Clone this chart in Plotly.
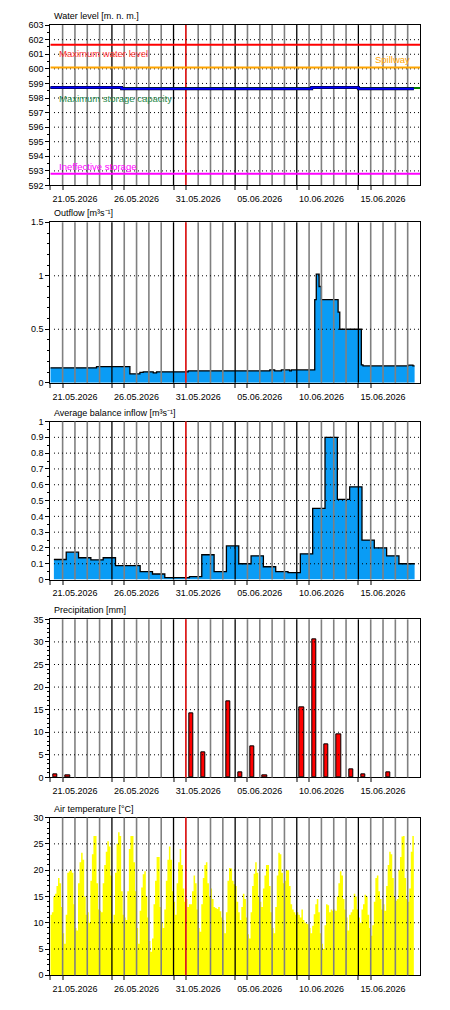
import pandas as pd
import plotly.graph_objects as go

FONT = "Liberation Sans, Arial, sans-serif"
X_START = "2026-05-19 00:00"
X_END = "2026-06-18 00:00"

# reservoir reference levels [m. n. m.]
max_water_level = 601.65
spillway_level = 600.1
max_storage_level = 598.68
ineffective_level = 592.8

# water level (step series)
level_times = ["2026-05-19 00:00", "2026-05-24 19:00", "2026-06-09 05:00",
               "2026-06-13 00:00", "2026-06-17 12:00"]
level_values = [598.72, 598.64, 598.72, 598.64, 598.64]

# outflow [m3/s] (step series)
outflow_times = ["2026-05-19 00:00", "2026-05-22 18:00", "2026-05-25 11:00", "2026-05-26 06:30",
                 "2026-05-26 13:00", "2026-05-27 08:30", "2026-05-27 15:00", "2026-05-30 04:30",
                 "2026-06-05 19:30", "2026-06-06 05:00", "2026-06-06 18:00", "2026-06-07 10:00",
                 "2026-06-07 13:30", "2026-06-09 11:00", "2026-06-09 14:00", "2026-06-09 19:30",
                 "2026-06-10 00:00", "2026-06-11 08:30", "2026-06-11 11:45", "2026-06-13 05:45",
                 "2026-06-13 09:00", "2026-06-17 00:45", "2026-06-17 10:15", "2026-06-17 13:30"]
outflow_values = [0.139, 0.151, 0.083, 0.096, 0.102, 0.093, 0.102, 0.111,
                  0.120, 0.111, 0.120, 0.111, 0.120, 0.778, 1.015, 0.90,
                  0.778, 0.66, 0.50, 0.167, 0.157, 0.165, 0.157, 0.157]

# average balance inflow [m3/s], daily 07:00 - 07:00
inflow_values = [0.127, 0.173, 0.138, 0.125, 0.138, 0.088, 0.088, 0.05, 0.035, 0.0125,
                 0.0125, 0.019, 0.157, 0.05, 0.213, 0.10, 0.15, 0.081, 0.05, 0.044,
                 0.163, 0.45, 0.90, 0.507, 0.587, 0.25, 0.20, 0.15, 0.10]
inflow_first = "2026-05-19 07:00"
inflow_end = "2026-06-17 13:30"

# precipitation [mm]
precip_days = ["2026-05-19 10:00", "2026-05-20 10:00", "2026-05-30 10:00", "2026-05-31 10:00",
               "2026-06-02 10:00", "2026-06-03 10:00", "2026-06-04 10:00", "2026-06-05 10:00",
               "2026-06-08 10:00", "2026-06-09 10:00", "2026-06-10 10:00", "2026-06-11 10:00",
               "2026-06-12 10:00", "2026-06-13 10:00", "2026-06-15 10:00"]
precip_mm = [0.6, 0.4, 14.2, 5.5, 16.9, 1.1, 6.8, 0.4, 15.5, 30.6, 7.4, 9.6, 1.75, 0.65, 1.1]

# air temperature [deg C], 3-hourly
temp_values = [
    11.5, 12, 15, 15.5, 17, 18.5, 17.5, 13,
    8, 6, 11.5, 19.5, 19.8, 20, 19.5, 13.5,
    9, 8.5, 17.5, 21.5, 23.3, 22, 15, 11.5,
    12, 10, 18, 23, 26.5, 26.5, 17.5, 12.5,
    12.3, 12, 17.5, 21, 23.5, 25.5, 24.5, 19,
    10, 11.5, 19.5, 25, 27.2, 26.5, 16, 11.5,
    11, 10.5, 16, 24, 26.5, 26.5, 21.5, 16,
    9, 6, 12.3, 16.7, 19.2, 19.8, 15, 11,
    6.5, 4.5, 7, 13.5, 18, 22.5, 22.5, 13,
    10, 9, 12.5, 18, 22, 24.5, 22, 16,
    14, 11.5, 17.5, 21.5, 24, 21, 16.5, 14,
    14.5, 13, 13.5, 13.5, 16, 19, 17.5, 12.5,
    9, 8.3, 13.5, 18.5, 21, 21.5, 17.5, 15,
    16.5, 14.5, 13, 12.8, 12.6, 13, 12.2, 11,
    10.5, 8, 12, 18, 20.4, 20.3, 18, 17.3,
    17, 14, 12, 10.5, 13, 15.5, 14.5, 11,
    7.8, 7, 12, 17, 19.3, 21.5, 19.5, 15,
    14, 13, 16.5, 19, 21, 21, 17, 12,
    9, 8, 13, 19, 23.3, 23, 19.5, 17.5,
    18, 20, 20, 17, 13.5, 12.5, 12, 11.5,
    12, 11.5, 11, 12.5, 10.5, 10, 9.8, 9.7,
    9, 8, 9.4, 11.6, 13.5, 14.5, 12, 8,
    6, 5, 9.5, 13.5, 13.3, 12, 12.5, 12.3,
    12.5, 12.3, 15, 17.5, 19.8, 19, 14.5, 12.5,
    11, 8.5, 11.5, 12, 12.5, 15.5, 15, 12.5,
    11, 10, 12.5, 13.5, 15.3, 15, 11.5, 9,
    7.5, 9.5, 14, 18.5, 19, 16, 14.5, 12.5,
    13.5, 12.3, 17, 21, 23.5, 23, 18.5, 15,
    14.2, 14.5, 20, 22.5, 26.4, 26.5, 18.5, 14.5,
    14, 16.5, 23.5, 26.5,
]

# time axis markers
label_days = pd.date_range("2026-05-21", periods=6, freq="5D")
black_days = pd.date_range("2026-05-24", periods=5, freq="5D")
gray_days = [d for d in pd.date_range("2026-05-20", "2026-06-17", freq="D") if d not in black_days]
bracket_days = sorted(list(pd.date_range("2026-05-19", periods=6, freq="5D"))
                      + list(pd.date_range("2026-05-20", periods=6, freq="5D")))
now_line = pd.Timestamp("2026-05-30 00:00")

W, H = 450, 1010
X_DOMAIN = [50.3 / W, 420 / W]

# panel: (top px, bottom px, title, y range, label ticks, minor dtick, dotted grid values)
panels = [
    (20.3, 182.3, "Water level [m. n. m.]", [592, 603], list(range(592, 604)), 0.5,
     list(range(593, 603))),
    (219.5, 381.5, "Outflow [m³s⁻¹]", [0, 1.5], [0, 0.5, 1, 1.5], 0.1, [0.5, 1.0]),
    (420.7, 580.3, "Average balance inflow [m³s⁻¹]", [0, 1.0],
     [round(i * 0.1, 1) for i in range(11)], 0.05, [round(i * 0.1, 1) for i in range(1, 10)]),
    (620.5, 780.1, "Precipitation [mm]", [0, 35], list(range(0, 36, 5)), 1, list(range(5, 35, 5))),
    (820.7, 980.0, "Air temperature [°C]", [0, 30], list(range(0, 31, 5)), 1, list(range(5, 30, 5))),
]


def py(px):
    return 1 - px / H


fig = go.Figure()

# --- panel 1: water level ---
for val, color in [(max_water_level, "#ff0000"), (spillway_level, "#ffa500"),
                   (max_storage_level, "#008000"), (ineffective_level, "#ff00ff")]:
    fig.add_trace(go.Scatter(x=[X_START, X_END], y=[val, val], mode="lines",
                             line=dict(color=color, width=2), xaxis="x", yaxis="y",
                             showlegend=False, hoverinfo="skip"))
fig.add_trace(go.Scatter(x=level_times, y=level_values, mode="lines", line_shape="hv",
                         line=dict(color="black", width=3), xaxis="x", yaxis="y",
                         showlegend=False))
fig.add_trace(go.Scatter(x=level_times, y=level_values, mode="lines", line_shape="hv",
                         line=dict(color="#0000ff", width=2), xaxis="x", yaxis="y",
                         showlegend=False))

# --- panel 2: outflow ---
fig.add_trace(go.Scatter(x=outflow_times, y=outflow_values, mode="lines", line_shape="hv",
                         fill="tozeroy", fillcolor="#0a9cf5",
                         line=dict(color="black", width=1.3), xaxis="x2", yaxis="y2",
                         showlegend=False))

# --- panel 3: balance inflow ---
inflow_times = list(pd.date_range(inflow_first, periods=len(inflow_values), freq="D")) + [pd.Timestamp(inflow_end)]
fig.add_trace(go.Scatter(x=inflow_times, y=inflow_values + [inflow_values[-1]], mode="lines",
                         line_shape="hv", fill="tozeroy", fillcolor="#0a9cf5",
                         line=dict(color="black", width=1.3), xaxis="x3", yaxis="y3",
                         showlegend=False))

# --- panel 4: precipitation ---
fig.add_trace(go.Bar(x=precip_days, y=precip_mm, width=0.35 * 86400000,
                     marker=dict(color="#ff0000", line=dict(color="black", width=1)),
                     xaxis="x4", yaxis="y4", showlegend=False))

# --- panel 5: air temperature ---
temp_times = list(pd.date_range(X_START, periods=len(temp_values), freq="3h"))
temp_times.append(temp_times[-1] + pd.Timedelta(hours=3))
fig.add_trace(go.Scatter(x=temp_times, y=temp_values + [temp_values[-1]], mode="lines",
                         line_shape="hv", fill="tozeroy", fillcolor="#ffff00",
                         line=dict(color="#ffff00", width=0), xaxis="x5", yaxis="y5",
                         showlegend=False))

shapes = []
annotations = []
layout = {}
for i, (top, bottom, title, yrange, yticks, minor, dotted) in enumerate(panels, start=1):
    sfx = "" if i == 1 else str(i)
    layer = "below" if i == 1 else "above"
    layout["xaxis" + sfx] = dict(
        domain=X_DOMAIN, anchor="y" + sfx, type="date", range=[X_START, X_END],
        tickvals=list(label_days), ticktext=[d.strftime("%d.%m.%Y") for d in label_days],
        ticks="", ticklabelstandoff=5,
        minor=dict(tickmode="array", tickvals=bracket_days, ticks="outside", ticklen=4,
                   tickcolor="#808080", tickwidth=1.5),
        showline=True, linecolor="black", linewidth=1, mirror=True,
        showgrid=False, zeroline=False, tickfont=dict(size=9, color="black", family=FONT),
    )
    layout["yaxis" + sfx] = dict(
        domain=[py(bottom), py(top)], anchor="x" + sfx, range=yrange,
        tickvals=yticks, ticktext=[f"{v:g}" for v in yticks],
        ticks="outside", ticklen=4, tickcolor="black",
        minor=dict(dtick=minor, ticks="outside", ticklen=2, tickcolor="black"),
        showline=True, linecolor="black", linewidth=1, mirror=True,
        showgrid=False, zeroline=False, tickfont=dict(size=9, color="black", family=FONT),
    )
    xr, yr = "x" + sfx, "y" + sfx
    for d in gray_days:
        shapes.append(dict(type="line", xref=xr, yref=yr + " domain", x0=d, x1=d, y0=0, y1=1,
                           line=dict(color="#808080", width=1.6), layer=layer))
    for d in black_days:
        shapes.append(dict(type="line", xref=xr, yref=yr + " domain", x0=d, x1=d, y0=0, y1=1,
                           line=dict(color="black", width=1.3), layer=layer))
    shapes.append(dict(type="line", xref=xr, yref=yr + " domain", x0=now_line, x1=now_line,
                       y0=0, y1=1, line=dict(color="#ff0000", width=1.3), layer=layer))
    for v in dotted:
        shapes.append(dict(type="line", xref=xr + " domain", yref=yr, x0=0.01, x1=1, y0=v, y1=v,
                           line=dict(color="black", width=1, dash="1px,3px"), layer=layer))
    annotations.append(dict(text=title, xref="paper", yref="paper", x=52 / W,
                            y=py(top - 9), xanchor="left", yanchor="middle", showarrow=False,
                            font=dict(size=9, color="black", family=FONT)))

# level labels in panel 1
for text, val, color, xpos, xanchor, yanchor, yshift in [
    ("Maximum water level", max_water_level, "#ff3333", 57, "left", "top", -1),
    ("Spillway", spillway_level, "#ffa500", 412, "right", "bottom", 0),
    ("Maximum storage capacity", max_storage_level, "#1f8a4c", 57, "left", "top", -3),
    ("Ineffective storage", ineffective_level, "#ff00ff", 57, "left", "bottom", 0),
]:
    annotations.append(dict(text=text, xref="paper", yref="y", x=xpos / W, y=val,
                            xanchor=xanchor, yanchor=yanchor, yshift=yshift, showarrow=False,
                            font=dict(size=9.5, color=color, family=FONT)))

fig.update_layout(
    width=W, height=H,
    margin=dict(l=0, r=0, t=0, b=0),
    plot_bgcolor="white", paper_bgcolor="white",
    font=dict(family=FONT, size=9, color="black"),
    bargap=0, shapes=shapes, annotations=annotations,
    **layout,
)

# page margin off so the 450x1010 figure fills the window exactly
fig.write_html("out.html", config={"displayModeBar": False},
               post_script="document.body.style.margin = '0';")
